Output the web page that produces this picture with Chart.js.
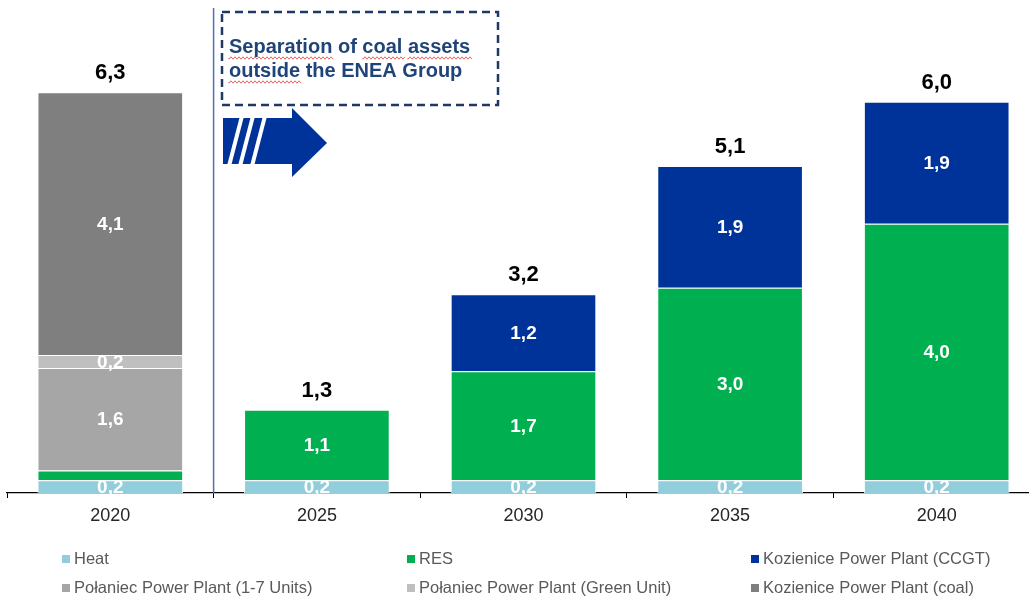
<!DOCTYPE html>
<html>
<head>
<meta charset="utf-8">
<script src="https://cdn.jsdelivr.net/npm/chart.js"></script>
<style>
  html, body { margin: 0; padding: 0; background: #fff; overflow: hidden; }
  #wrap { position: relative; width: 1045px; height: 598px; }
  #legend { position: absolute; left: 0; top: 0; width: 1029px; height: 598px; pointer-events: none;
            font-family: "Liberation Sans", Arial, sans-serif; font-size: 16.5px; color: #595959; }
  .item { position: absolute; white-space: nowrap; line-height: 18px; }
  .box { display: inline-block; width: 8px; height: 8px; margin-right: 4px; vertical-align: 1px; }
</style>
</head>
<body>
<div id="wrap">
  <canvas id="mixChart" width="1045" height="598"></canvas>
  <div id="legend"></div>
</div>
<script>
const years = ['2020', '2025', '2030', '2035', '2040'];
const heat = [0.2, 0.2, 0.2, 0.2, 0.2];
const res = [0.15, 1.1, 1.7, 3.0, 4.0];
const kozienice_ccgt = [0, 0, 1.2, 1.9, 1.9];
const polaniec_units = [1.6, 0, 0, 0, 0];
const polaniec_green = [0.2, 0, 0, 0, 0];
const kozienice_coal = [4.1, 0, 0, 0, 0];
const totals = [6.3, 1.3, 3.2, 5.1, 6.0];

const fmt = v => v.toFixed(1).replace('.', ',');

function series(label, data, color) {
  return { label: label, data: data, backgroundColor: color, borderColor: '#ffffff', borderWidth: 1 };
}

// labels, totals, separator and the "coal assets" callout
const overlay = {
  id: 'overlay',
  afterDatasetsDraw(chart) {
    const ctx = chart.ctx;
    const x = chart.scales.x;
    const area = chart.chartArea;
    ctx.save();

    ctx.textAlign = 'center';
    ctx.textBaseline = 'middle';
    ctx.fillStyle = '#ffffff';
    ctx.font = 'bold 19px "Liberation Sans", Arial, sans-serif';
    chart.data.datasets.forEach((ds, di) => {
      chart.getDatasetMeta(di).data.forEach((bar, i) => {
        const v = ds.data[i];
        if (v < 0.2) return;
        ctx.fillText(fmt(v), bar.x, (bar.y + bar.base) / 2 + 1);
      });
    });

    ctx.fillStyle = '#000000';
    ctx.font = 'bold 22px "Liberation Sans", Arial, sans-serif';
    totals.forEach((t, i) => {
      let top = area.bottom;
      let cx = 0;
      chart.data.datasets.forEach((ds, di) => {
        const bar = chart.getDatasetMeta(di).data[i];
        cx = bar.x;
        if (ds.data[i] > 0) top = Math.min(top, bar.y);
      });
      ctx.fillText(fmt(t), cx, top - 19);
    });

    // divider between 2020 and the later years
    const sx = (x.getPixelForValue(0) + x.getPixelForValue(1)) / 2;
    ctx.strokeStyle = '#4F6FB7';
    ctx.lineWidth = 1.5;
    ctx.beginPath();
    ctx.moveTo(sx, 8);
    ctx.lineTo(sx, area.bottom);
    ctx.stroke();

    // dashed callout box
    ctx.strokeStyle = '#1F3864';
    ctx.lineWidth = 2.5;
    ctx.setLineDash([8, 5]);
    ctx.strokeRect(222, 12, 276, 93);
    ctx.setLineDash([]);

    ctx.textAlign = 'left';
    ctx.textBaseline = 'alphabetic';
    ctx.fillStyle = '#1F4479';
    ctx.font = 'bold 20px "Liberation Sans", Arial, sans-serif';
    ctx.fillText('Separation of coal assets', 229, 53);
    ctx.fillText('outside the ENEA Group', 229, 77);

    // red wavy underline under flagged words
    ctx.strokeStyle = '#E8645F';
    ctx.lineWidth = 1;
    [[229, 333, 58], [363, 405, 58], [408, 473, 58], [229, 302, 82]].forEach(([x1, x2, y]) => {
      ctx.beginPath();
      ctx.moveTo(x1, y);
      for (let px = x1, k = 0; px <= x2; px += 2, k++) ctx.lineTo(px, y + (k % 2 ? -1.2 : 1.2));
      ctx.stroke();
    });

    // arrow with slanted stripes
    ctx.fillStyle = '#003399';
    ctx.beginPath();
    ctx.moveTo(223, 118);
    ctx.lineTo(292, 118);
    ctx.lineTo(292, 108);
    ctx.lineTo(327, 143);
    ctx.lineTo(292, 177);
    ctx.lineTo(292, 164);
    ctx.lineTo(223, 164);
    ctx.closePath();
    ctx.fill();
    ctx.strokeStyle = '#ffffff';
    ctx.lineWidth = 4;
    [229, 240, 252].forEach(b => {
      ctx.beginPath();
      ctx.moveTo(b, 166);
      ctx.lineTo(b + 13, 116);
      ctx.stroke();
    });

    ctx.restore();
  }
};

const chart = new Chart(document.getElementById('mixChart').getContext('2d'), {
  type: 'bar',
  data: {
    labels: years,
    datasets: [
      series('Heat', heat, '#92CDDC'),
      series('RES', res, '#00B050'),
      series('Kozienice Power Plant (CCGT)', kozienice_ccgt, '#003399'),
      series('Połaniec Power Plant (1-7 Units)', polaniec_units, '#A6A6A6'),
      series('Połaniec Power Plant (Green Unit)', polaniec_green, '#BFBFBF'),
      series('Kozienice Power Plant (coal)', kozienice_coal, '#7F7F7F')
    ]
  },
  options: {
    responsive: false,
    animation: false,
    layout: { padding: { left: 7, right: 5, top: 12, bottom: 0 } },
    datasets: { bar: { barPercentage: 0.705, categoryPercentage: 1 } },
    plugins: { legend: { display: false }, tooltip: { enabled: false } },
    scales: {
      x: {
        stacked: true,
        afterFit: s => { s.height = 105; },
        grid: { offset: true, drawOnChartArea: false, drawTicks: true, tickLength: 5, color: '#000000' },
        border: { display: true, color: '#000000', width: 1.2 },
        ticks: { padding: 7, color: '#262626', font: { family: '"Liberation Sans", Arial, sans-serif', size: 18 } }
      },
      y: { stacked: true, display: false, min: 0, max: 7.5 }
    }
  },
  plugins: [overlay]
});

// legend in three columns, two rows
const legend = document.getElementById('legend');
const cols = [62, 407, 751];
const rows = [549, 578];
chart.data.datasets.forEach((ds, i) => {
  const item = document.createElement('div');
  item.className = 'item';
  item.style.left = cols[i % 3] + 'px';
  item.style.top = rows[Math.floor(i / 3)] + 'px';
  item.innerHTML = '<span class="box" style="background:' + ds.backgroundColor + '"></span>' + ds.label;
  legend.appendChild(item);
});
</script>
</body>
</html>
